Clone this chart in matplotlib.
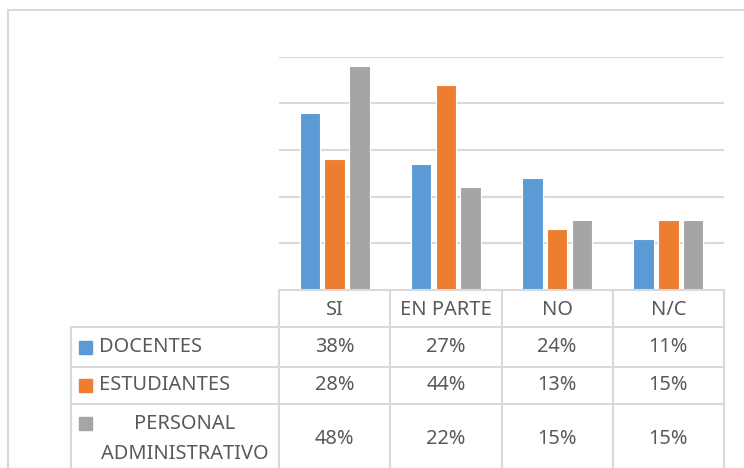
import numpy as np
import matplotlib
matplotlib.use("Agg")
import matplotlib.pyplot as plt
from matplotlib.lines import Line2D
from matplotlib.patches import Rectangle
import matplotlib.transforms as mtransforms

plt.rcParams['font.family'] = ['Noto Sans', 'DejaVu Sans']

categories = ['SI', 'EN PARTE', 'NO', 'N/C']
series_names = ['DOCENTES', 'ESTUDIANTES', 'PERSONAL\nADMINISTRATIVO']
docentes = [0.38, 0.27, 0.24, 0.11]
estudiantes = [0.28, 0.44, 0.13, 0.15]
personal = [0.48, 0.22, 0.15, 0.15]
values = [docentes, estudiantes, personal]
colors = ['#5B9BD5', '#ED7D31', '#A5A5A5']

W, H = 744, 468
txt_col = '#595959'
grid_col = '#D9D9D9'
fs = 14.4

fig = plt.figure(figsize=(W / 100, H / 100), dpi=100)

def fx(x):
    return x / W

def fy(y):
    return 1 - y / H

# plot area
ax = fig.add_axes([fx(279), fy(290), fx(724) - fx(279), fy(56.7) - fy(290)])
x = np.arange(len(categories))
step = 0.222
for i, (vals, c) in enumerate(zip(values, colors)):
    ax.bar(x + (i - 1) * step, vals, width=0.185, color=c,
           edgecolor='white', linewidth=0.8, zorder=3)
ax.set_xlim(-0.5, len(categories) - 0.5)
ax.set_ylim(0, 0.5)
ax.set_yticks(np.arange(0.1, 0.51, 0.1))
ax.yaxis.grid(True, color=grid_col, linewidth=1.5, zorder=0)
ax.set_xticks([])
ax.tick_params(left=False, labelleft=False)
for s in ax.spines.values():
    s.set_visible(False)

# outer chart border
fig.add_artist(Line2D([fx(7.5), fx(7.5)], [fy(10), 0], transform=fig.transFigure,
                      color=grid_col, lw=1.5))
fig.add_artist(Line2D([fx(7.5), 1], [fy(10), fy(10)], transform=fig.transFigure,
                      color=grid_col, lw=1.5))

# data table
trans = mtransforms.blended_transform_factory(ax.transData, fig.transFigure)
row_edges = [290, 327, 367, 404, 474]
x_left = ax.transData.inverted().transform(
    fig.transFigure.transform((fx(71), 0)))[0]

def hline(y, x0, x1):
    fig.add_artist(Line2D([x0, x1], [fy(y), fy(y)], transform=trans,
                          color=grid_col, lw=1.5))

def vline(xx, y0, y1):
    fig.add_artist(Line2D([xx, xx], [fy(y0), fy(y1)], transform=trans,
                          color=grid_col, lw=1.5))

hline(row_edges[0], -0.5, len(categories) - 0.5)
for y in row_edges[1:4]:
    hline(y, x_left, len(categories) - 0.5)
for k in range(len(categories) + 1):
    vline(k - 0.5, row_edges[0], row_edges[-1])
vline(x_left, row_edges[1], row_edges[-1])

# header
for k, cat in enumerate(categories):
    fig.text(k, fy(310), cat, transform=trans, ha='center', va='center',
             fontsize=fs, color=txt_col)

# rows
for r, (name, vals, c) in enumerate(zip(series_names, values, colors)):
    yc = (row_edges[r + 1] + row_edges[r + 2]) / 2
    for k, v in enumerate(vals):
        fig.text(k, fy(yc), f'{v:.0%}', transform=trans, ha='center',
                 va='center', fontsize=fs, color=txt_col)
    if '\n' in name:
        fig.text(fx(185), fy(yc), name, ha='center', va='center',
                 fontsize=fs, color=txt_col, linespacing=1.62)
        sq_y = 423.5
    else:
        fig.text(fx(99), fy(yc), name, ha='left', va='center',
                 fontsize=fs, color=txt_col)
        sq_y = yc
    fig.add_artist(Rectangle((fx(79), fy(sq_y + 6.5)), fx(13), 13 / H,
                             transform=fig.transFigure, color=c))

fig.savefig('out.png', dpi=100, facecolor='white')
